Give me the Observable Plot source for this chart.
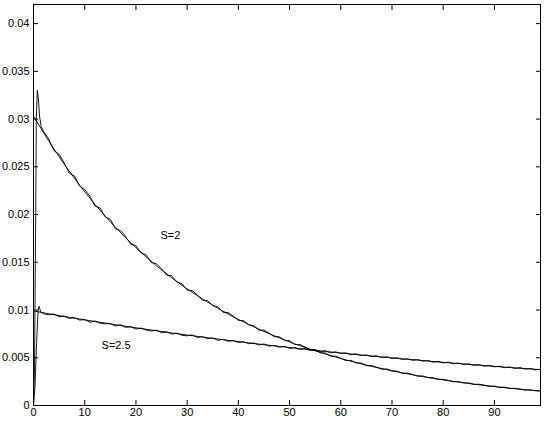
<!DOCTYPE html>
<html>
<head>
<meta charset="utf-8">
<script src="https://cdn.jsdelivr.net/npm/d3@7"></script>
<script src="https://cdn.jsdelivr.net/npm/@observablehq/plot@0.6"></script>
<style>
  html, body { margin: 0; padding: 0; background: #fff; }
  #chart { width: 545px; height: 422px; }
</style>
</head>
<body>
<div id="chart"></div>
<script>
// Tick positions and labels
const xTicks = [0, 10, 20, 30, 40, 50, 60, 70, 80, 90];
const yTicks = [0, 0.005, 0.01, 0.015, 0.02, 0.025, 0.03, 0.035, 0.04];
const yTickLabels = ["0", "0.005", "0.01", "0.015", "0.02", "0.025", "0.03", "0.035", "0.04"];

// Smooth (theoretical) curves, sampled every 3 units
const smoothX = [0,3,6,9,12,15,18,21,24,27,30,33,36,39,42,45,48,51,54,57,60,63,66,69,72,75,78,81,84,87,90,93,96,99];
const smoothS2 = [0.03030,0.02767,0.02526,0.02307,0.02106,0.01923,0.01756,0.01604,0.01464,0.01337,0.01221,0.01115,0.01018,0.00929,0.00849,0.00775,0.00708,0.00646,0.00590,0.00539,0.00492,0.00449,0.00410,0.00375,0.00342,0.00312,0.00285,0.00260,0.00238,0.00217,0.00198,0.00181,0.00165,0.00151];
const smoothS25 = [0.00990,0.00961,0.00933,0.00906,0.00880,0.00855,0.00830,0.00806,0.00783,0.00760,0.00738,0.00717,0.00696,0.00676,0.00656,0.00637,0.00619,0.00601,0.00583,0.00566,0.00550,0.00534,0.00519,0.00504,0.00489,0.00475,0.00461,0.00448,0.00435,0.00422,0.00410,0.00398,0.00387,0.00375];

// Simulated (noisy) curves
const noisyX2 = [0,0.2,0.4,0.55,0.75,0.95,1.2,1.5,2].concat(d3.range(3, 100));
const noisyS2 = [0,0.004,0.018,0.030,0.0330,0.0322,0.0302,0.0292,0.0287,
  0.02790,0.02668,0.02632,0.02541,0.02430,0.02405,0.02299,0.02262,0.02195,0.02088,
  0.02069,0.01975,0.01950,0.01850,0.01833,0.01770,0.01688,0.01675,0.01598,0.01578,
  0.01497,0.01485,0.01431,0.01365,0.01358,0.01292,0.01276,0.01210,0.01203,0.01157,
  0.01102,0.01099,0.01045,0.01035,0.00976,0.00974,0.00936,0.00891,0.00890,0.00845,
  0.00838,0.00789,0.00789,0.00758,0.00720,0.00721,0.00683,0.00679,0.00638,0.00639,
  0.00613,0.00582,0.00584,0.00552,0.00550,0.00516,0.00517,0.00496,0.00470,0.00473,
  0.00446,0.00445,0.00417,0.00419,0.00401,0.00380,0.00383,0.00361,0.00360,0.00336,
  0.00340,0.00325,0.00307,0.00310,0.00292,0.00292,0.00272,0.00275,0.00263,0.00248,
  0.00251,0.00236,0.00237,0.00220,0.00223,0.00213,0.00200,0.00204,0.00190,0.00192,
  0.00177,0.00181,0.00172,0.00161,0.00165,0.00154,0.00155];

const noisyX25 = [0,0.3,0.6,0.9,1.1,1.4,2].concat(d3.range(3, 100));
const noisyS25 = [0,0.002,0.0065,0.0100,0.0104,0.0098,0.0096,
  0.00950,0.00958,0.00930,0.00935,0.00912,0.00920,0.00895,0.00900,0.00872,0.00885,
  0.00862,0.00856,0.00858,0.00832,0.00845,0.00818,0.00825,0.00800,0.00812,0.00790,
  0.00780,0.00790,0.00762,0.00772,0.00748,0.00758,0.00735,0.00730,0.00740,0.00712,
  0.00722,0.00700,0.00708,0.00682,0.00694,0.00672,0.00682,0.00660,0.00668,0.00648,
  0.00655,0.00633,0.00645,0.00622,0.00630,0.00610,0.00620,0.00598,0.00606,0.00588,
  0.00598,0.00578,0.00585,0.00565,0.00574,0.00552,0.00562,0.00545,0.00552,0.00532,
  0.00542,0.00522,0.00530,0.00512,0.00520,0.00502,0.00510,0.00492,0.00500,0.00482,
  0.00490,0.00474,0.00482,0.00465,0.00472,0.00454,0.00462,0.00446,0.00454,0.00437,
  0.00445,0.00430,0.00436,0.00420,0.00428,0.00412,0.00420,0.00405,0.00411,0.00396,
  0.00404,0.00388,0.00396,0.00381,0.00388,0.00373,0.00380];

// Curve labels
const labelText = ["S=2", "S=2.5"];
const labelX = [24.8, 13.3];
const labelY = [0.0178, 0.0063];

const lineOpts = (xs) => ({x: (d, i) => xs[i], y: d => d, stroke: "black", strokeWidth: 0.9});

const chart = Plot.plot({
  width: 545,
  height: 422,
  marginLeft: 33,
  marginRight: 5,
  marginTop: 4,
  marginBottom: 17,
  style: {fontFamily: "'Liberation Sans', Arial, Helvetica, sans-serif", fontSize: "11px", background: "#fff", color: "#000"},
  x: {domain: [0, 99]},
  y: {domain: [0, 0.042]},
  marks: [
    Plot.line(smoothS2, lineOpts(smoothX)),
    Plot.line(smoothS25, lineOpts(smoothX)),
    Plot.line(noisyS2, lineOpts(noisyX2)),
    Plot.line(noisyS25, lineOpts(noisyX25)),
    Plot.text(labelText, {x: (d, i) => labelX[i], y: (d, i) => labelY[i], text: d => d, textAnchor: "start", fill: "black", fontSize: 11}),
    // inward ticks on all four sides
    Plot.axisX({ticks: xTicks, anchor: "bottom", tickSize: -5, tickFormat: () => "", label: null}),
    Plot.axisX({ticks: xTicks, anchor: "top", tickSize: -5, tickFormat: () => "", label: null}),
    Plot.axisY({ticks: yTicks, anchor: "left", tickSize: -5, tickFormat: () => "", label: null}),
    Plot.axisY({ticks: yTicks, anchor: "right", tickSize: -5, tickFormat: () => "", label: null}),
    // tick labels
    Plot.axisX({ticks: xTicks, anchor: "bottom", tickSize: 0, tickPadding: 3, tickFormat: d => String(d), label: null}),
    Plot.axisY({ticks: yTicks, anchor: "left", tickSize: 0, tickPadding: 4, tickFormat: d => yTickLabels[yTicks.indexOf(d)], label: null}),
    Plot.frame({stroke: "black", strokeWidth: 1})
  ]
});
document.getElementById("chart").appendChild(chart);
</script>
</body>
</html>
